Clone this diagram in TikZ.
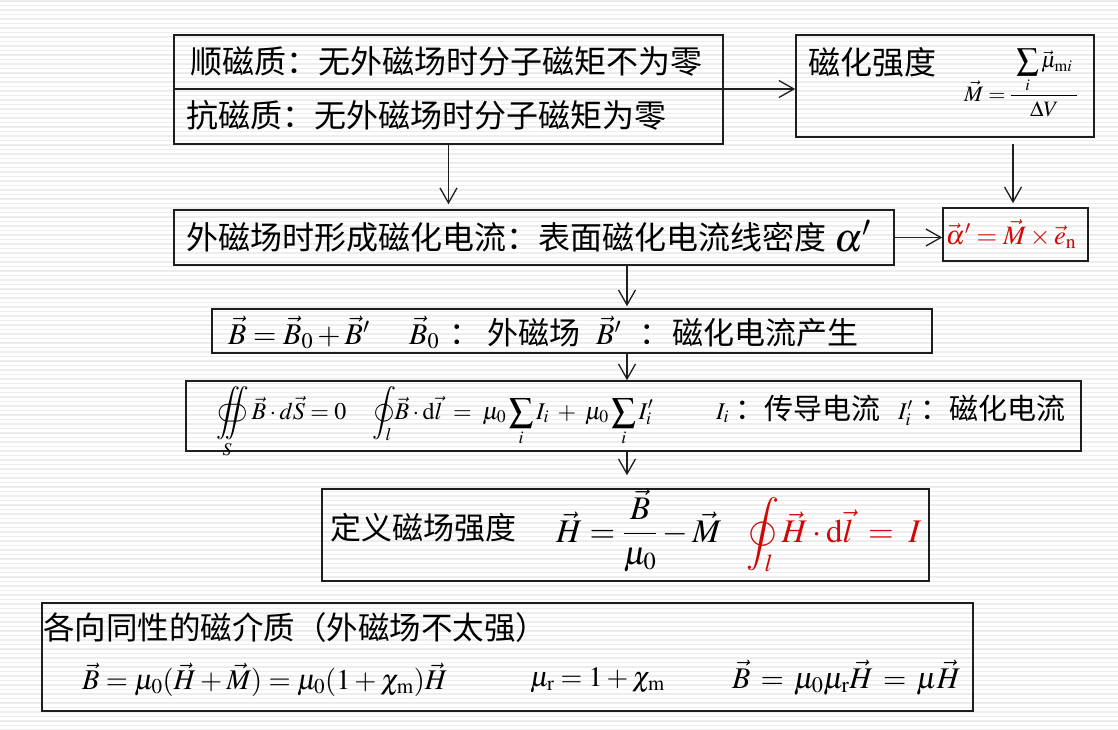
\documentclass[tikz,border=0pt]{standalone}
\usepackage{mathptmx}
\usepackage{esint}
\usepackage{fontspec}
\newfontfamily\cjk{Noto Sans CJK SC}
\usetikzlibrary{arrows.meta}
\definecolor{myred}{RGB}{210,8,8}
\definecolor{boxline}{RGB}{30,30,30}
\tikzset{
  box/.style={draw=boxline, line width=1.6pt, inner sep=0pt},
  arr/.style={draw=boxline, line width=1.3pt, -{Straight Barb[length=15pt,width=17pt]}},
  stripe/.style={draw=black!7, line width=1.6pt},
  txt/.style={inner sep=0pt, anchor=base west},
  cjA/.style={txt, font=\cjk\fontsize{32}{36}\selectfont},
  cjB/.style={txt, font=\cjk\fontsize{31}{35}\selectfont},
  cjC/.style={txt, font=\cjk\fontsize{29}{33}\selectfont},
  mA/.style={txt, font=\fontsize{30}{34}\selectfont},
  mB/.style={txt, font=\fontsize{24}{28}\selectfont},
  mC/.style={txt, font=\fontsize{33}{37}\selectfont},
  mD/.style={txt, font=\fontsize{22}{26}\selectfont},
}
\begin{document}
\begin{tikzpicture}[x=1pt,y=-1pt]
\useasboundingbox (0,0) rectangle (1118,729);
\fill[white] (0,0) rectangle (1118,729);
\foreach \k in {0,...,162}{\draw[stripe] (0,{\k*4.5+1}) -- (1118,{\k*4.5+1});}

% boxes
\node[box, minimum width=549, minimum height=109] (b1) at (448.5,89.5) {};
\coordinate (dv) at (0,89);
\draw[draw=boxline, line width=1.6pt] (b1.west |- dv) -- (b1.east |- dv);
\node[box, minimum width=298, minimum height=102] (bM) at (945,86) {};
\node[box, minimum width=720, minimum height=55] (b3) at (534,237.5) {};
\node[box, minimum width=145, minimum height=53] (bR) at (1015.5,234.5) {};
\node[box, minimum width=720, minimum height=44] (b4) at (572,331) {};
\node[box, minimum width=895, minimum height=70] (b5) at (633.5,416) {};
\node[box, minimum width=607, minimum height=92] (b6) at (625.5,535) {};
\node[box, minimum width=931, minimum height=108] (b7) at (507.5,657) {};

% box 1
\node[cjA] (t1) at (190,73) {顺磁质：无外磁场时分子磁矩不为零};
\node[cjA] (t2) at (186,127) {抗磁质：无外磁场时分子磁矩为零};

% magnetization box
\node[cjA] (t3) at (808,74) {磁化强度};
\node[mD] (fM) at (964,101) {$\displaystyle\vec M=\frac{\displaystyle\;\sum_i\vec\mu_{\mathrm{m}i}\;}{\Delta V}$};

% box 3
\node[cjA] (t4) at (186,249) {外磁场时形成磁化电流：表面磁化电流线密度};
\node[txt, font=\fontsize{40}{44}\selectfont] (t4a) at (834,251) {$\alpha'$};

% red box
\node[inner sep=0pt, text=myred, font=\fontsize{26.5}{30}\selectfont] (t5) at (1011,234) {$\vec\alpha'=\vec M\times\vec e_{\mathrm n}$};

% box 4
\node[mA] (f1) at (228,344) {$\vec B=\vec B_0+\vec B'$};
\node[mA] (f2) at (409,344) {$\vec B_0$};
\node[cjB] (f3) at (449,344) {：};
\node[cjB] (f4) at (487,344) {外磁场};
\node[mA] (f5) at (596,344) {$\vec B'$};
\node[cjB] (f6) at (639,344) {：};
\node[cjB] (f7) at (672,344) {磁化电流产生};

% box 5
\node[mB] (e1) at (216,419) {$\displaystyle\oiint\limits_S\vec B\cdot d\vec S=0$};
\node[mB] (e2) at (372,419) {$\displaystyle\oint_l\vec B\cdot\mathrm{d}\vec l\;=\;\mu_0\sum_i I_i\;+\;\mu_0\sum_i I'_i$};
\node[mB] (e3) at (716,419) {$I_i$};
\node[cjC] (e4) at (735,419) {：传导电流};
\node[mB] (e5) at (898,419) {$I'_i$};
\node[cjC] (e6) at (920,419) {：磁化电流};

% box 6
\node[cjB] (g1) at (330,539) {定义磁场强度};
\node[mC] (g2) at (556,542) {$\displaystyle\vec H=\frac{\vec B}{\mu_0}-\vec M$};
\node[txt, font=\fontsize{33}{37}\selectfont, text=myred] (g3) at (746,542) {$\displaystyle\oint_l\hspace{5pt}\vec H\cdot\mathrm{d}\vec l\;=\;I$};

% box 7
\node[txt, font=\cjk\fontsize{31.5}{35}\selectfont] (h1) at (43,639) {各向同性的磁介质（外磁场不太强）};
\node[txt, font=\fontsize{28.5}{32}\selectfont] (h2) at (82,689) {$\vec B=\mu_0(\vec H+\vec M)=\mu_0(1+\chi_{\mathrm m})\vec H$};
\node[txt, font=\fontsize{28}{32}\selectfont] (h3) at (530,686) {$\mu_{\mathrm r}=1+\chi_{\mathrm m}$};
\node[txt, font=\fontsize{30}{34}\selectfont] (h4) at (732,688) {$\vec B\,=\,\mu_0\mu_{\mathrm r}\vec H\,=\,\mu\vec H$};

% connectors
\coordinate (cx) at (627,0);
\coordinate (mx) at (1013,0);
\draw[arr] (b1.east |- dv) -- (bM.west |- dv);
\draw[arr, shorten >=5pt] (b1.south) -- (b1.south |- b3.north);
\draw[arr, shorten <=6pt, shorten >=4pt] (bM.south -| mx) -- (bR.north -| mx);
\draw[arr] (b3.east |- b3.center) -- (bR.west |- b3.center);
\draw[arr, shorten >=2pt] (b3.south -| cx) -- (b4.north -| cx);
\draw[arr] (b4.south -| cx) -- (b5.north -| cx);
\draw[arr, shorten >=13pt] (b5.south -| cx) -- (b6.north -| cx);
\end{tikzpicture}
\end{document}
